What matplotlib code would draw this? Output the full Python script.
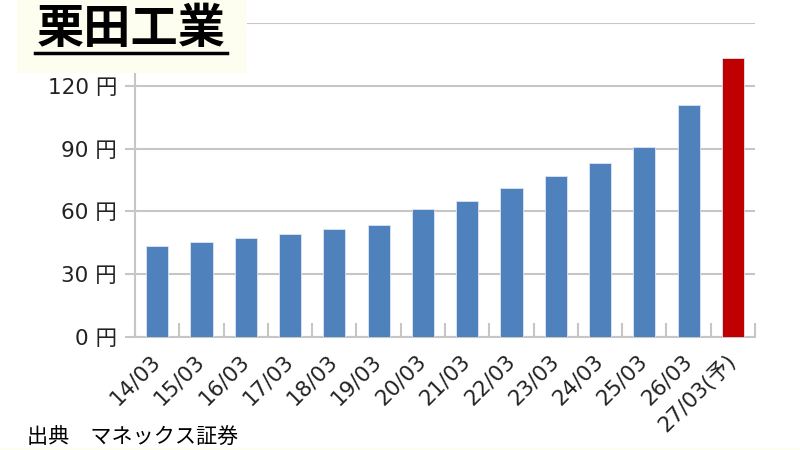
import matplotlib
matplotlib.use('Agg')
import matplotlib.pyplot as plt
from matplotlib.patches import Rectangle
from matplotlib.lines import Line2D
import numpy as np

plt.rcParams['font.family'] = ['Noto Sans CJK JP', 'DejaVu Sans']
tick_font = ['DejaVu Sans', 'Noto Sans CJK JP']

# data
labels = ['14/03', '15/03', '16/03', '17/03', '18/03', '19/03', '20/03',
          '21/03', '22/03', '23/03', '24/03', '25/03', '26/03', '27/03(予)']
values = [43.3, 45.4, 47.4, 49.3, 51.4, 53.4, 61.1,
          65.0, 71.1, 77.0, 83.0, 90.9, 110.6, 133.2]
forecast = [False] * 13 + [True]
yticks = [0, 30, 60, 90, 120, 150]
# the 150 label sits under the title box in the reference
ytick_labels = ['0 円', '30 円', '60 円', '90 円', '120 円', '']

title = '栗田工業'
source = '出典　マネックス証券'

blue = '#4F81BD'
red = '#C00000'
grid_c = '#C6C6C6'

fig = plt.figure(figsize=(8, 4.5), dpi=100)
ax = fig.add_axes([135/800, 1 - 337/450, 620/800, 314/450])

x = np.arange(len(labels))
colors = [red if f else blue for f in forecast]
ax.bar(x, values, 0.5, color=colors, edgecolor='#DCE6F2', linewidth=0.6, zorder=3)

ax.set_xlim(-0.5, len(labels) - 0.5)
ax.set_ylim(0, 150)
ax.set_yticks(yticks)
ax.set_yticklabels(ytick_labels, fontsize=15.5, color='#222222', family=tick_font)
ax.yaxis.grid(True, color=grid_c, linewidth=1.5, zorder=0)
ax.tick_params(axis='y', direction='out', length=7, width=1.5, color=grid_c, pad=6)

ax.set_xticks(x)
ax.set_xticklabels(labels, rotation=45, ha='right', va='center',
                   rotation_mode='anchor', fontsize=15.5, color='#222222',
                   family=tick_font)
ax.tick_params(axis='x', which='major', length=0, pad=15)
ax.set_xticks(np.arange(len(labels) + 1) - 0.5, minor=True)
ax.tick_params(axis='x', which='minor', direction='in', length=10, width=1.5, color=grid_c)

for s in ['top', 'right']:
    ax.spines[s].set_visible(False)
for s in ['left', 'bottom']:
    ax.spines[s].set_color(grid_c)
    ax.spines[s].set_linewidth(1.5)

# title box on top of the chart
fig.patches.append(Rectangle((17/800, 1 - 73/450), 230/800, 73/450,
                             transform=fig.transFigure, facecolor='#FEFEF0',
                             edgecolor='none', zorder=5))
fig.text(131/800, 1 - 29/450, title, fontsize=34, fontweight='bold',
         ha='center', va='center', color='black', zorder=6)
fig.lines.append(Line2D([35/800, 227/800], [1 - 53/450, 1 - 53/450],
                        transform=fig.transFigure, color='black', linewidth=2.5, zorder=6))

fig.patches.append(Rectangle((0, 0), 1, 2/450, transform=fig.transFigure,
                             facecolor='#FEFEF0', edgecolor='none', zorder=5))
fig.text(27/800, 1 - 437/450, source, fontsize=15.2, ha='left', va='center', color='black')

fig.savefig('out.png', dpi=100)
